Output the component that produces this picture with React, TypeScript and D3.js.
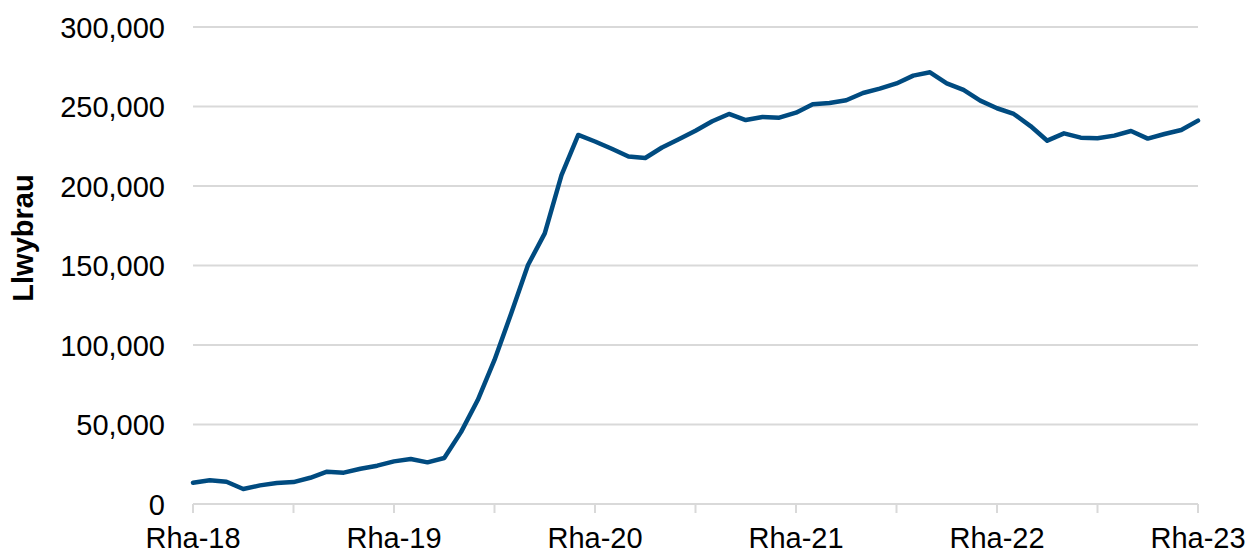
import React from "react";
import * as d3 from "d3";

const values: number[] = [
  13400, 14900, 14000, 9400, 11700, 13200, 13800, 16500, 20300, 19700, 22200, 24100,
  26800, 28300, 26200, 28900, 45200, 65400, 90600, 119900, 150300, 170200, 206900, 232100,
  228000, 223400, 218600, 217600, 224200, 229400, 234800, 240700, 245300, 241500, 243400, 243000,
  246100, 251400, 252200, 253900, 258500, 261200, 264500, 269400, 271500, 264600, 260400, 253700,
  248900, 245300, 237700, 228500, 233100, 230400, 230000, 231700, 234600, 229800, 232700, 235200,
  241100,
];
const xTickLabels: string[] = ["Rha-18", "Rha-19", "Rha-20", "Rha-21", "Rha-22", "Rha-23"];
const yTicks: number[] = [0, 50000, 100000, 150000, 200000, 250000, 300000];
const yTitle = "Llwybrau";

export default function App() {
  const W = 1251;
  const H = 553;
  const left = 193;
  const right = 1198;
  const top = 27;
  const bottom = 504;
  const font = "'Liberation Sans', Arial, sans-serif";
  const fs = 29;

  const x = d3.scaleLinear().domain([0, values.length - 1]).range([left, right]);
  const y = d3.scaleLinear().domain([0, 300000]).range([bottom, top]);
  const line = d3
    .line<number>()
    .x((_, i) => x(i))
    .y((d) => y(d));
  const fmt = d3.format(",");
  const minorTicks = d3.range(0, values.length, 6);

  return (
    <svg
      width={W}
      height={H}
      style={{ position: "absolute", left: 0, top: 0, background: "#fff" }}
      fontFamily={font}
    >
      {yTicks.map((t) => (
        <g key={t}>
          {t > 0 && (
            <line x1={left} x2={right} y1={y(t)} y2={y(t)} stroke="#d9d9d9" strokeWidth={2} />
          )}
          <text
            x={165}
            y={y(t) + 10.5}
            textAnchor="end"
            fontSize={fs}
            fill="#000"
          >
            {fmt(t)}
          </text>
        </g>
      ))}
      <line x1={left} x2={right} y1={bottom} y2={bottom} stroke="#d9d9d9" strokeWidth={2} />
      {minorTicks.map((i) => (
        <line key={i} x1={x(i)} x2={x(i)} y1={bottom} y2={bottom + 9} stroke="#d9d9d9" strokeWidth={2} />
      ))}
      {xTickLabels.map((l, k) => (
        <text key={l} x={x(k * 12)} y={bottom + 44} textAnchor="middle" fontSize={fs} fill="#000">
          {l}
        </text>
      ))}
      <text
        transform={`translate(33, 238) rotate(-90)`}
        textAnchor="middle"
        fontSize={fs}
        fontWeight="bold"
        fill="#000"
      >
        {yTitle}
      </text>
      <path
        d={line(values) || ""}
        fill="none"
        stroke="#004b80"
        strokeWidth={4.5}
        strokeLinejoin="round"
        strokeLinecap="round"
      />
    </svg>
  );
}
